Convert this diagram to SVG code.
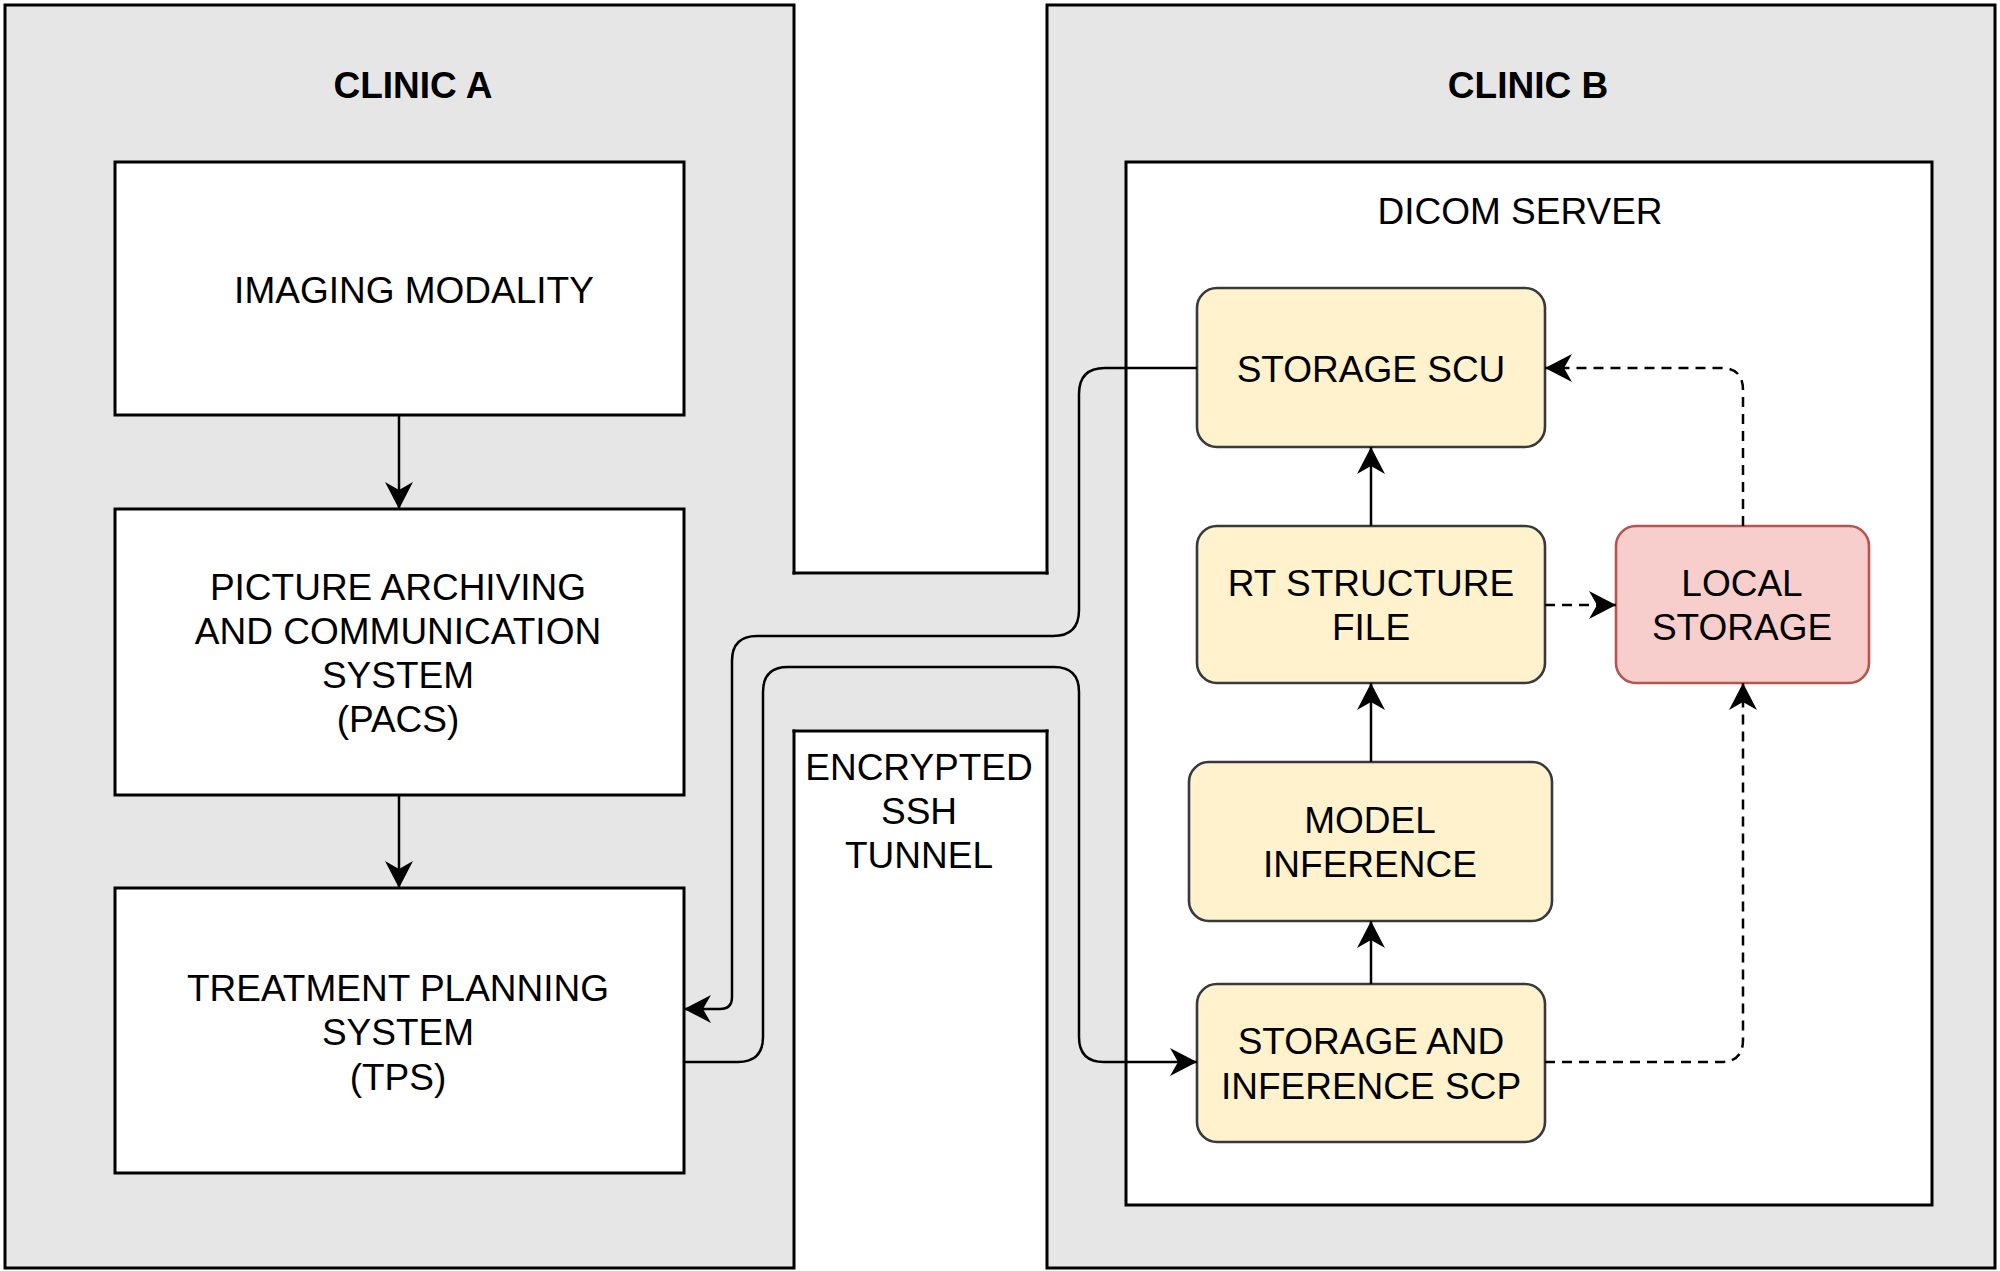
<svg xmlns="http://www.w3.org/2000/svg" width="2000" height="1271" viewBox="0 0 2000 1271">
<defs>
<style>
.zone{fill:#e6e6e6;stroke:#000;stroke-width:3}
.box{fill:#fff;stroke:#000;stroke-width:3}
.yel{fill:#fff2cc;stroke:#36393d;stroke-width:2.6}
.red{fill:#f8cecc;stroke:#b85450;stroke-width:2.6}
.t{font-family:"Liberation Sans",Arial,Helvetica,sans-serif;font-size:37px;fill:#000;text-anchor:middle}
.b{font-weight:bold}
.c{fill:none;stroke:#000;stroke-width:2.5}
.d{stroke-dasharray:10 7}
</style>
<marker id="ah" markerUnits="userSpaceOnUse" viewBox="0 0 28 28" markerWidth="28" markerHeight="28" refX="27" refY="14" orient="auto">
<path d="M27,14 L0,0 L8,14 L0,28 Z" fill="#000" stroke="none"/>
</marker>
</defs>
<rect width="2000" height="1271" fill="#fff"/>

<g id="clinic-a">
<rect class="zone" x="5" y="5" width="789" height="1263"/>
<text class="t b" x="413" y="98">CLINIC A</text>
</g>
<g id="clinic-b">
<rect class="zone" x="1047" y="5" width="948" height="1263"/>
<text class="t b" x="1528" y="98">CLINIC B</text>
</g>
<g id="tunnel">
<rect x="792" y="574.5" width="257" height="155" fill="#e6e6e6"/>
<line x1="792.5" y1="573" x2="1048.5" y2="573" stroke="#000" stroke-width="3"/>
<line x1="792.5" y1="731" x2="1048.5" y2="731" stroke="#000" stroke-width="3"/>
<text class="t" x="919" y="780">ENCRYPTED</text>
<text class="t" x="919" y="824">SSH</text>
<text class="t" x="919" y="868">TUNNEL</text>
</g>

<g id="imaging-modality">
<rect class="box" x="115" y="162" width="569" height="253"/>
<text class="t" x="414" y="303">IMAGING MODALITY</text>
</g>
<g id="pacs">
<rect class="box" x="115" y="509" width="569" height="286"/>
<text class="t" x="398" y="600">PICTURE ARCHIVING</text>
<text class="t" x="398" y="644">AND COMMUNICATION</text>
<text class="t" x="398" y="688">SYSTEM</text>
<text class="t" x="398" y="732">(PACS)</text>
</g>
<g id="tps">
<rect class="box" x="115" y="888" width="569" height="285"/>
<text class="t" x="398" y="1001">TREATMENT PLANNING</text>
<text class="t" x="398" y="1045">SYSTEM</text>
<text class="t" x="398" y="1090">(TPS)</text>
</g>

<g id="dicom-server">
<rect class="box" x="1126" y="162" width="806" height="1043"/>
<text class="t" x="1520" y="224">DICOM SERVER</text>
</g>
<g id="storage-scu">
<rect class="yel" x="1197" y="288" width="348" height="159" rx="20"/>
<text class="t" x="1371" y="382">STORAGE SCU</text>
</g>
<g id="rt-structure-file">
<rect class="yel" x="1197" y="526" width="348" height="157" rx="20"/>
<text class="t" x="1371" y="596">RT STRUCTURE</text>
<text class="t" x="1371" y="640">FILE</text>
</g>
<g id="local-storage">
<rect class="red" x="1616" y="526" width="253" height="157" rx="20"/>
<text class="t" x="1742" y="596">LOCAL</text>
<text class="t" x="1742" y="640">STORAGE</text>
</g>
<g id="model-inference">
<rect class="yel" x="1189" y="762" width="363" height="159" rx="20"/>
<text class="t" x="1370" y="833">MODEL</text>
<text class="t" x="1370" y="877">INFERENCE</text>
</g>
<g id="storage-inference-scp">
<rect class="yel" x="1197" y="984" width="348" height="158" rx="20"/>
<text class="t" x="1371" y="1054">STORAGE AND</text>
<text class="t" x="1371" y="1099">INFERENCE SCP</text>
</g>

<g id="connectors">
<path class="c" d="M399,415 V509" marker-end="url(#ah)"/>
<path class="c" d="M399,795 V888" marker-end="url(#ah)"/>
<path class="c" d="M1197,368 H1105 Q1079,368 1079,394 V610 Q1079,636 1053,636 H757 Q732,636 732,661 V997 Q732,1009 720,1009 H684" marker-end="url(#ah)"/>
<path class="c" d="M684,1062 H738 Q763,1062 763,1037 V692 Q763,667 788,667 H1054 Q1079,667 1079,692 V1037 Q1079,1062 1104,1062 H1197" marker-end="url(#ah)"/>
<path class="c" d="M1371,984 V921" marker-end="url(#ah)"/>
<path class="c" d="M1371,762 V683" marker-end="url(#ah)"/>
<path class="c" d="M1371,526 V447" marker-end="url(#ah)"/>
<path class="c d" d="M1545,605 H1616" marker-end="url(#ah)"/>
<path class="c d" d="M1743,526 V390 Q1743,368 1721,368 H1545" marker-end="url(#ah)"/>
<path class="c d" d="M1545,1062 H1721 Q1743,1062 1743,1040 V683" marker-end="url(#ah)"/>
</g>
</svg>
